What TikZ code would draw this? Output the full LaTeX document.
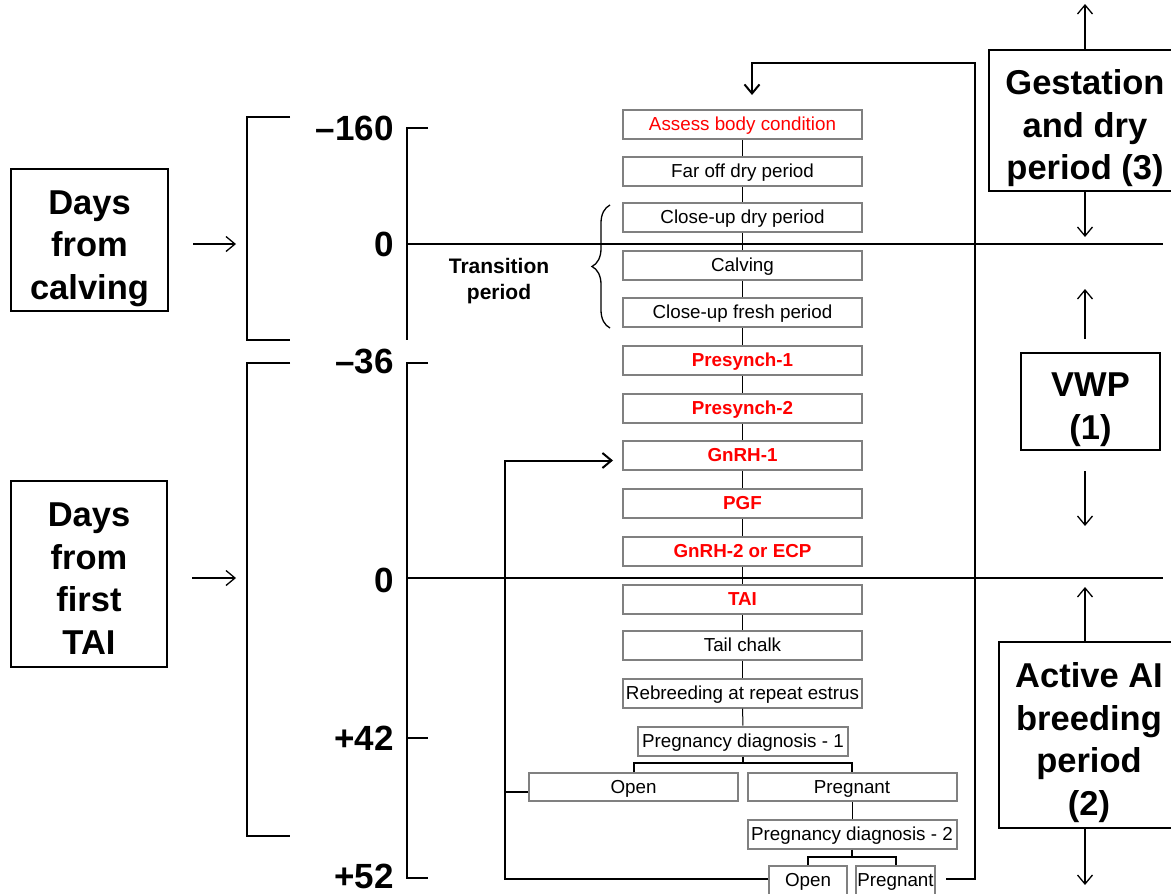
\documentclass[tikz,border=0pt]{standalone}
\usepackage{fontspec}
\setmainfont{Liberation Sans}
\usetikzlibrary{arrows.meta,decorations.pathreplacing}
\newcommand\toprow{\rule{0pt}{33pt}}

\begin{document}
\begin{tikzpicture}[x=1pt,y=-1pt,
  stage/.style={draw=gray,line width=2pt,minimum width=239pt,minimum height=29pt,inner sep=0pt,text height=13.5pt,text depth=1pt,font=\fontsize{18.8}{22}\selectfont},
  hormone/.style={stage,text=red,font=\fontsize{18.8}{22}\selectfont\bfseries},
  period/.style={draw,line width=2pt,align=center,inner sep=0pt,text depth=0pt,font=\fontsize{34.5}{42.5}\selectfont\bfseries},
  day/.style={anchor=east,inner sep=0pt,font=\fontsize{35}{40}\selectfont\bfseries},
  link/.style={line width=1pt},
  rule/.style={line width=2pt},
  pointer/.style={line width=1.3pt,-{Straight Barb[length=9pt,width=15pt]}}]
\clip (0,0) rectangle (1171,894);

% left side: what the scales count from
\node[period,minimum width=157pt,minimum height=142pt] (calv) at (89.5,240) {\toprow Days\\from\\calving};
\node[period,minimum width=156pt,minimum height=186pt] (first) at (89,574) {\toprow Days\\from\\first\\TAI};
\coordinate (calvscale) at (236,244);
\coordinate (firstscale) at (236,578);
\draw[pointer,shorten <=24pt] (calv.east |- calvscale) -- (calvscale);
\draw[pointer,shorten <=24pt] (first.east |- firstscale) -- (firstscale);

% day scales
\draw[rule] (290,117) -- (247,117) -- (247,340) -- (290,340);
\draw[rule] (290,363) -- (247,363) -- (247,836) -- (290,836);
\draw[rule] (428,128) -- (407,128) -- (407,340);
\draw[rule] (428,363) -- (407,363) -- (407,878) -- (428,878);
\draw[rule] (407,738) -- (428,738);
\draw[rule] (407,244) -- (1163,244);
\draw[rule] (407,578) -- (1163,578);
\node[day] (dm160) at (394,128) {--160};
\node[day] (dcalv) at (394,244) {0};
\node[day] (dm36) at (394,361) {--36};
\node[day] (dtai) at (394,580) {0};
\node[day] (dp42) at (394,738) {+42};
\node[day] (dp52) at (394,876) {+52};

% management steps
\node[stage,text=red] (assess) at (742.5,124.5) {Assess body condition};
\node[stage] (faroff) at (742.5,171.5) {Far off dry period};
\node[stage] (closedry) at (742.5,217.5) {Close-up dry period};
\node[stage] (calving) at (742.5,265.5) {Calving};
\node[stage] (fresh) at (742.5,312.5) {Close-up fresh period};
\node[hormone] (pre1) at (742.5,360.5) {Presynch-1};
\node[hormone] (pre2) at (742.5,408) {Presynch-2};
\node[hormone] (gnrh1) at (742.5,455.5) {GnRH-1};
\node[hormone] (pgf) at (742.5,503.5) {PGF};
\node[hormone] (gnrh2) at (742.5,551.5) {GnRH-2 or ECP};
\node[hormone] (tai) at (742.5,599.5) {TAI};
\node[stage] (chalk) at (742.5,645.5) {Tail chalk};
\node[stage] (rebreed) at (742.5,693) {Rebreeding at repeat estrus};
\node[stage,minimum width=210pt] (diag1) at (743,741) {Pregnancy diagnosis - 1};
\node[stage,minimum width=209pt,minimum height=28pt] (open1) at (633.5,787) {Open};
\node[stage,minimum width=209pt,minimum height=28pt] (preg1) at (852,787) {Pregnant};
\node[stage,minimum width=209pt] (diag2) at (852,834) {Pregnancy diagnosis - 2};
\node[stage,minimum width=78pt] (open2) at (808,880.5) {Open};
\node[stage,minimum width=79pt] (preg2) at (895.5,880.5) {Pregnant};
\foreach \a/\b in {assess/faroff,faroff/closedry,closedry/calving,calving/fresh,fresh/pre1,pre1/pre2,pre2/gnrh1,gnrh1/pgf,pgf/gnrh2,gnrh2/tai,tai/chalk,chalk/rebreed,rebreed/diag1,preg1/diag2}
  \draw[link] (\a) -- (\b);

% diagnosis outcomes
\coordinate (fork1) at (743,763);
\coordinate (fork2) at (852,857);
\draw[rule] (diag1) -- (fork1);
\draw[rule] (open1.north) |- (fork1) -| (preg1.north);
\draw[rule] (diag2) -- (fork2);
\draw[rule] (open2.north) |- (fork2) -| (preg2.north);

% resynch and next lactation loops
\coordinate (resynch) at (505,879);
\coordinate (nextcycle) at (975,63);
\draw[rule,-{Straight Barb[length=9pt,width=15pt]},shorten >=9pt] (open2.west |- resynch) -- (resynch) |- ([yshift=-5pt]gnrh1.west);
\draw[rule] ([yshift=-5pt]open1.west) -- ++(-24,0);
\draw[rule,-{Straight Barb[length=9pt,width=15pt]}] ([xshift=10pt]preg2.east |- resynch) -| (nextcycle) -| ([xshift=9.5pt,yshift=14pt]assess.north);

% transition period
\node[font=\fontsize{21}{26}\selectfont\bfseries,align=center] (trans) at (499,281) {Transition\\period};
\draw[line width=1.3pt,decorate,decoration={brace,amplitude=18pt}] (610,328) -- (610,205);

% periods on the right
\node[period,minimum width=192pt,minimum height=141pt] (gest) at (1085,120.5) {\toprow Gestation\\and dry\\period (3)};
\node[period,minimum width=139pt,minimum height=97pt] (vwp) at (1090.5,401.5) {\toprow VWP\\(1)};
\node[period,minimum width=180pt,minimum height=186pt] (active) at (1089,735) {\toprow Active AI\\breeding\\period\\(2)};
\draw[pointer] (gest.north) -- ++(0,-45);
\draw[pointer] (gest.south) -- ++(0,45);
\draw[pointer] (vwp.north) ++(-5.5,-13) -- ++(0,-50);
\draw[pointer] (vwp.south) ++(-5.5,20) -- ++(0,55);
\draw[pointer] (active.north -| gest) -- ++(0,-54);
\draw[pointer] (active.south -| gest) -- ++(0,56);
\end{tikzpicture}
\end{document}
